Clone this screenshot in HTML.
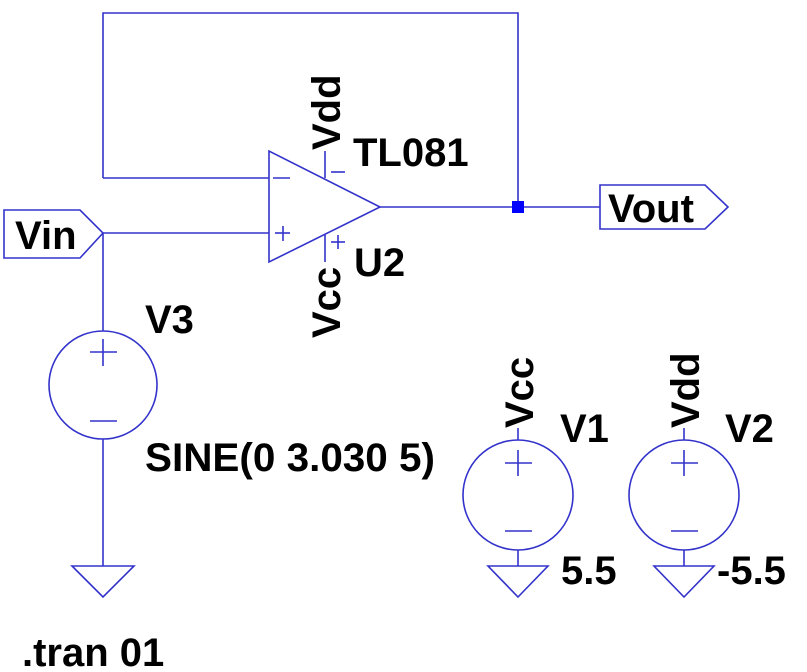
<!DOCTYPE html>
<html><head><meta charset="utf-8"><style>
html,body{margin:0;padding:0;background:#fff;}
svg{display:block}
text{font-family:"Liberation Sans",Arial,sans-serif;font-weight:bold;fill:#000;}
</style></head><body>
<svg width="807" height="672" viewBox="0 0 807 672" xmlns="http://www.w3.org/2000/svg">
<g stroke="#3333cc" stroke-width="1.6" fill="none">
<polyline points="103,178 103,13 518,13 518,207"/>
<line x1="103" y1="178" x2="269" y2="178"/>
<line x1="103" y1="233" x2="269" y2="233"/>
<line x1="380" y1="207" x2="600" y2="207"/>
<polygon points="269,151 269,262 380,207"/>
<line x1="325" y1="151" x2="325" y2="178"/>
<line x1="325" y1="235" x2="325" y2="262"/>
<line x1="273" y1="178" x2="290" y2="178"/>
<line x1="275" y1="233" x2="290" y2="233"/><line x1="283" y1="226" x2="283" y2="241"/>
<line x1="331" y1="172" x2="345" y2="172"/>
<line x1="331" y1="242" x2="345" y2="242"/><line x1="338" y1="235" x2="338" y2="249"/>
<polygon points="4,210 80,210 103,233 80,258 4,258"/>
<polygon points="600,185 705,185 728,207 705,229 600,229"/>
<line x1="103" y1="233" x2="103" y2="331"/>
<circle cx="103" cy="385" r="54"/>
<line x1="90" y1="352" x2="117" y2="352"/><line x1="103" y1="339" x2="103" y2="366"/>
<line x1="90" y1="421" x2="117" y2="421"/>
<line x1="103" y1="439" x2="103" y2="566"/>
<polygon points="72,566 134,566 103,597"/>
<line x1="518" y1="428" x2="518" y2="440"/>
<circle cx="518" cy="495" r="55"/>
<line x1="505" y1="463" x2="532" y2="463"/><line x1="518" y1="450" x2="518" y2="476"/>
<line x1="505" y1="531" x2="532" y2="531"/>
<line x1="518" y1="550" x2="518" y2="566"/>
<polygon points="488,566 548,566 518,597"/>
<line x1="684" y1="428" x2="684" y2="440"/>
<circle cx="684" cy="495" r="55"/>
<line x1="671" y1="463" x2="698" y2="463"/><line x1="684" y1="450" x2="684" y2="476"/>
<line x1="671" y1="531" x2="698" y2="531"/>
<line x1="684" y1="550" x2="684" y2="566"/>
<polygon points="654,566 714,566 684,597"/>
</g>
<rect x="512" y="201" width="12" height="12" fill="#0000ff"/>
<g font-size="40">
<text x="15" y="249">Vin</text>
<text x="608" y="222">Vout</text>
<text x="353" y="166">TL081</text>
<text x="354" y="276">U2</text>
<text x="145" y="333">V3</text>
<text x="145" y="471" textLength="290" lengthAdjust="spacingAndGlyphs">SINE(0 3.030 5)</text>
<text x="22" y="666">.tran 01</text>
<text x="560" y="442">V1</text>
<text x="725" y="442">V2</text>
<text x="561" y="584">5.5</text>
<text x="717" y="584">-5.5</text>
<text transform="translate(340,150) rotate(-90)">Vdd</text>
<text transform="translate(340,338) rotate(-90)">Vcc</text>
<text transform="translate(533,428) rotate(-90)">Vcc</text>
<text transform="translate(699,428) rotate(-90)">Vdd</text>
</g>
</svg>
</body></html>
